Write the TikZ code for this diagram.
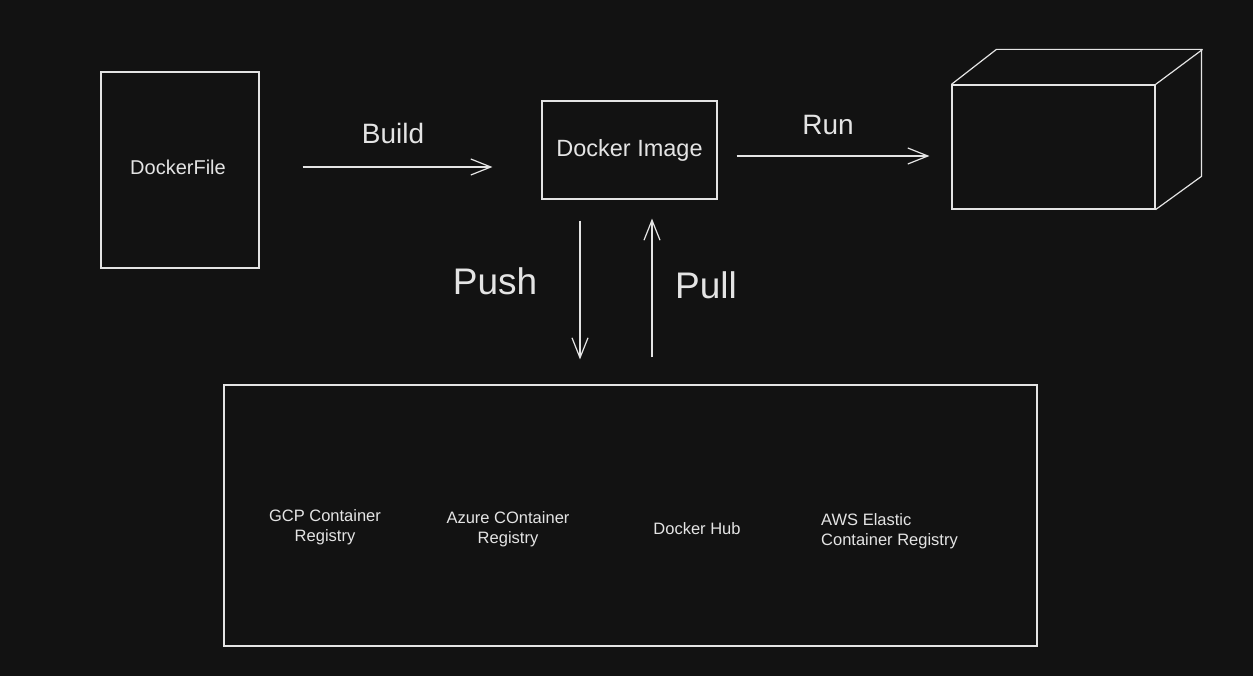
\documentclass[tikz,border=0pt]{standalone}
\usepackage{fontspec}
\setmainfont{Liberation Sans}
\definecolor{BGcolor}{HTML}{121212}
\definecolor{INKcolor}{HTML}{E4E4E4}
\usetikzlibrary{arrows.meta}

\begin{document}
\begin{tikzpicture}[x=1pt, y=-1pt]

    \tikzset{%
        sketchbox/.style={draw=INKcolor, line width=1.2pt, rectangle, inner sep=0pt},
        flow/.style={draw=INKcolor, line width=1.2pt, -{Straight Barb[length=20pt, width=16pt]}},
        mainlabel/.style={text=INKcolor, font=\fontsize{28}{32}\selectfont},
        biglabel/.style={text=INKcolor, font=\fontsize{37}{40}\selectfont},
        regtext/.style={text=INKcolor, font=\fontsize{16.5}{20}\selectfont, inner sep=0pt}
    }

    \fill [BGcolor] (0, 0) rectangle (1253, 676);
    \useasboundingbox (0, 0) rectangle (1253, 676);

    % top row
    \node [sketchbox, minimum width=158pt, minimum height=196pt] (file) at (180, 170) {};
    \node [text=INKcolor, font=\fontsize{20}{24}\selectfont] (filetext) at (178, 167) {DockerFile};
    \node [sketchbox, minimum width=175pt, minimum height=98pt, text=INKcolor,
        font=\fontsize{23.5}{27}\selectfont] (image) at (629.5, 150) {Docker Image};
    \node [sketchbox, minimum width=203pt, minimum height=124pt] (container) at (1053.5, 147) {};

    % cube back edges
    \draw [INKcolor, line width=1.2pt] (container.north west) -- ++(45, -35) -- ++(205, 0)
        -- ++(0, 127) -- (container.south east);
    \draw [INKcolor, line width=1.2pt] (container.north east) -- ++(47, -35);

    % registries
    \node [sketchbox, minimum width=813pt, minimum height=261pt] (registry) at (630.5, 515.5) {};
    \node [regtext, align=center] (gcp) at (325, 527) {GCP Container\\Registry};
    \node [regtext, align=center] (azure) at (508, 529) {Azure COntainer\\Registry};
    \node [regtext] (hub) at (697, 529) {Docker Hub};
    \node [regtext, align=left, anchor=west] (aws) at (821, 531) {AWS Elastic\\Container Registry};

    % arrows
    \draw [flow, shorten <=43pt, shorten >=49pt] ([yshift=3pt]file.east)
        -- ([yshift=3pt]file.east -| image.west);
    \node [mainlabel] (build) at (393, 133) {Build};

    \draw [flow, shorten <=19pt, shorten >=22pt] ([yshift=-6pt]image.east)
        -- ([yshift=-6pt]image.east -| container.west);
    \node [mainlabel] (run) at (828, 125) {Run};

    \draw [flow, shorten <=21pt, shorten >=25pt] ([xshift=-49.5pt]image.south)
        -- ([xshift=-49.5pt]image.south |- registry.north);
    \node [biglabel] (push) at (495, 281) {Push};

    \draw [flow, shorten <=27pt, shorten >=19pt] ([xshift=22.5pt]image.south |- registry.north)
        -- ([xshift=22.5pt]image.south);
    \node [biglabel] (pull) at (706, 285) {Pull};

\end{tikzpicture}
\end{document}
